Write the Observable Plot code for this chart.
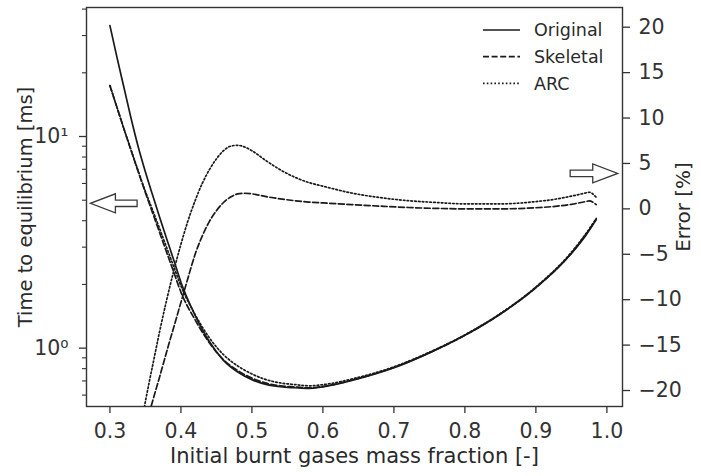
<!DOCTYPE html>
<html>
<head>
<meta charset="utf-8">
<script src="https://cdn.jsdelivr.net/npm/d3@7"></script>
<script src="https://cdn.jsdelivr.net/npm/@observablehq/plot@0.6"></script>
<style>
  body { margin: 0; background: #fff; }
  #chart { position: relative; width: 701px; height: 476px; }
  #chart svg { position: absolute; left: 0; top: 0; }
</style>
</head>
<body>
<div id="chart"></div>
<script>
// Initial burnt gases mass fraction (x) for the time-to-equilibrium curves
const fraction = [0.30, 0.31, 0.32, 0.33, 0.34, 0.35, 0.36, 0.37, 0.38, 0.39, 0.40, 0.42, 0.44, 0.46, 0.48,
  0.50, 0.52, 0.54, 0.56, 0.58, 0.60, 0.65, 0.70, 0.75, 0.80, 0.85, 0.90, 0.95, 0.97, 0.985];

// Time to equilibrium [ms] for each mechanism
const timeOriginal = [33.4, 23.6, 16.9, 12.1, 8.9, 6.8, 5.3, 4.15, 3.28, 2.6, 2.05, 1.43, 1.075, 0.875, 0.771,
  0.71, 0.674, 0.657, 0.65, 0.645, 0.656, 0.717, 0.808, 0.95, 1.15, 1.45, 1.93, 2.8, 3.4, 4.05];
const timeSkeletal = [17.4, 13.7, 10.8, 8.55, 6.79, 5.43, 4.37, 3.52, 2.83, 2.28, 1.84, 1.36, 1.06, 0.881, 0.783,
  0.722, 0.683, 0.664, 0.656, 0.65, 0.66, 0.72, 0.81, 0.951, 1.15, 1.45, 1.932, 2.81, 3.43, 4.07];
const timeARC = [17.4, 13.7, 10.8, 8.6, 6.85, 5.5, 4.5, 3.67, 2.98, 2.42, 1.97, 1.44, 1.12, 0.931, 0.824,
  0.755, 0.71, 0.685, 0.673, 0.664, 0.672, 0.728, 0.816, 0.957, 1.156, 1.458, 1.945, 2.84, 3.46, 4.10];

// Relative error [%] of the reduced mechanisms
const errorFraction = [0.345, 0.35, 0.355, 0.36, 0.37, 0.38, 0.39, 0.40, 0.41, 0.42, 0.43, 0.44, 0.45, 0.46, 0.47,
  0.48, 0.49, 0.50, 0.52, 0.54, 0.56, 0.58, 0.60, 0.64, 0.68, 0.72, 0.76, 0.80, 0.85, 0.90, 0.93, 0.95, 0.97, 0.975, 0.985];
const errorSkeletal = [null, null, -22.6, -21.2, -18.5, -15.7, -13.0, -10.3, -7.6, -5.0, -3.0, -1.4, -0.2, 0.7, 1.3,
  1.65, 1.72, 1.65, 1.35, 1.1, 0.9, 0.75, 0.65, 0.47, 0.3, 0.15, 0.05, 0.0, 0.0, 0.12, 0.3, 0.5, 0.8, 0.87, 0.47];
const errorARC = [-23.5, -21.2, -19.2, -17.3, -13.5, -10.0, -6.8, -3.9, -1.3, 0.9, 2.8, 4.3, 5.5, 6.4, 6.9,
  7.0, 6.8, 6.4, 5.3, 4.3, 3.5, 2.9, 2.5, 1.75, 1.25, 0.9, 0.7, 0.55, 0.55, 0.8, 1.1, 1.4, 1.75, 1.83, 1.28];

// Axis ticks and labels
const xTicks = [0.3, 0.4, 0.5, 0.6, 0.7, 0.8, 0.9, 1.0];
const timeMajorTicks = [1, 10];
const timeMajorLabels = ["10⁰", "10¹"];
const timeMinorTicks = [0.6, 0.7, 0.8, 0.9, 2, 3, 4, 5, 6, 7, 8, 9, 20, 30, 40];
const errorTicks = [-20, -15, -10, -5, 0, 5, 10, 15, 20];
const seriesNames = ["Original", "Skeletal", "ARC"];
const xLabel = "Initial burnt gases mass fraction [-]";
const timeLabel = "Time to equilibrium [ms]";
const errorLabel = "Error [%]";

// Hollow arrows pointing at the axis each curve family belongs to
const timeArrow = [{tail: 0.339, tip: 0.2732, level: 4.81}];
const errorArrow = [{tail: 0.949, tip: 1.016, level: 3.85}];

const W = 701, H = 476;
const frame = {marginLeft: 86, marginRight: 79, marginTop: 7, marginBottom: 70};
const xDomain = [0.267, 1.022];
const ink = "#1a1a1a";
const axisInk = "#333";
const labelInk = "#2a2a2a";
const dash = {Original: null, Skeletal: "6,2.6", ARC: "1.6,2.2"};
const baseStyle = {fontFamily: "'DejaVu Sans', sans-serif", fontSize: "20.5px", color: axisInk, background: "none", overflow: "visible"};

function blockArrow(data) {
  return Plot.dot(data, {
    x: "tip", y: "level", r: 0,
    render(index, scales) {
      const g = d3.create("svg:g");
      for (const i of index) {
        const d = data[i];
        const tx = scales.x(d.tip), sx = scales.x(d.tail), y = scales.y(d.level);
        const dir = Math.sign(tx - sx), head = 25, hh = 9.5, sh = 3.2;
        const nx = tx - dir * head;
        const pts = [[sx, y - sh], [nx, y - sh], [nx, y - hh], [tx, y], [nx, y + hh], [nx, y + sh], [sx, y + sh]];
        g.append("path")
          .attr("d", "M" + pts.map(p => p.join(",")).join("L") + "Z")
          .attr("fill", "#fff").attr("stroke", "#3a3a3a").attr("stroke-width", 1.3);
      }
      return g.node();
    }
  });
}

const lineOpts = (name) => ({stroke: ink, strokeWidth: 1.7, strokeDasharray: dash[name], curve: "monotone-x"});

// Time to equilibrium on a log axis (left)
const timePlot = Plot.plot({
  width: W, height: H, ...frame,
  style: baseStyle,
  x: {domain: xDomain, axis: null},
  y: {type: "log", domain: [0.53, 40.7], axis: null},
  marks: [
    Plot.axisX({ticks: xTicks, tickFormat: d3.format(".1f"), tickSize: 7, tickPadding: 10, label: null, strokeWidth: 1.3}),
    Plot.axisY({ticks: timeMajorTicks, tickFormat: d => timeMajorLabels[timeMajorTicks.indexOf(d)], tickSize: 7, tickPadding: 11, label: null, strokeWidth: 1.3}),
    Plot.axisY({ticks: timeMinorTicks, tickFormat: () => "", tickSize: 4, label: null, strokeWidth: 1.1}),
    Plot.line(fraction, {x: d => d, y: timeOriginal, ...lineOpts("Original")}),
    Plot.line(fraction, {x: d => d, y: timeSkeletal, ...lineOpts("Skeletal")}),
    Plot.line(fraction, {x: d => d, y: timeARC, ...lineOpts("ARC")}),
    blockArrow(timeArrow),
    Plot.frame({stroke: axisInk, strokeWidth: 1.4}),
    Plot.text([xLabel], {frameAnchor: "bottom", dy: 56, fontSize: 21, fill: labelInk}),
    Plot.text([timeLabel], {frameAnchor: "left", textAnchor: "middle", dx: -61, rotate: -90, fontSize: 19.5, fill: labelInk})
  ]
});

// Relative error on a linear axis (right), same x range
const errorPlot = Plot.plot({
  width: W, height: H, ...frame,
  style: baseStyle,
  x: {domain: xDomain, axis: null},
  y: {domain: [-21.76, 22.17], axis: null},
  marks: [
    Plot.axisY({anchor: "right", ticks: errorTicks, tickSize: 7, tickPadding: 9, label: null, strokeWidth: 1.3}),
    Plot.line(errorFraction, {x: d => d, y: errorSkeletal, clip: true, ...lineOpts("Skeletal")}),
    Plot.line(errorFraction, {x: d => d, y: errorARC, clip: true, ...lineOpts("ARC")}),
    blockArrow(errorArrow),
    Plot.text([errorLabel], {frameAnchor: "right", textAnchor: "middle", dx: 61, rotate: -90, fontSize: 20, fill: labelInk})
  ]
});

// Legend in the upper right corner of the frame
const legend = d3.select(errorPlot).append("g")
  .attr("font-family", "'DejaVu Sans', sans-serif").attr("font-size", 17.5)
  .attr("fill", labelInk).attr("text-anchor", "start");
seriesNames.forEach((name, i) => {
  const y = 30 + i * 26.7;
  legend.append("line")
    .attr("x1", 483).attr("x2", 520).attr("y1", y).attr("y2", y)
    .attr("stroke", ink).attr("stroke-width", 1.7)
    .attr("stroke-dasharray", dash[name]);
  legend.append("text").attr("x", 534).attr("y", y).attr("dy", "0.35em").text(name);
});

document.getElementById("chart").append(timePlot, errorPlot);
</script>
</body>
</html>
